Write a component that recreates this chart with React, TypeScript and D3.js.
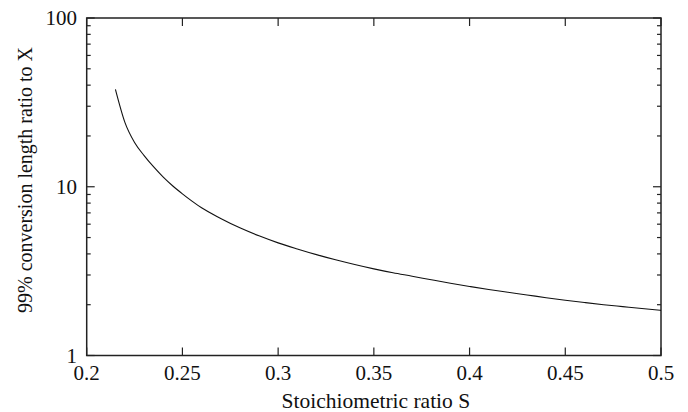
import React from "react";
import * as d3 from "d3";

const ratioS: number[] = [0.215, 0.22, 0.225, 0.23, 0.235, 0.24, 0.245, 0.25, 0.255, 0.26, 0.27, 0.28, 0.29, 0.30, 0.31, 0.32, 0.33, 0.34, 0.35, 0.36, 0.37, 0.38, 0.39, 0.40, 0.41, 0.42, 0.43, 0.44, 0.45, 0.46, 0.47, 0.48, 0.49, 0.50];
const lengthRatio: number[] = [37.8, 24.0, 18.3, 15.3, 13.1, 11.4, 10.1, 9.08, 8.22, 7.5, 6.49, 5.71, 5.12, 4.65, 4.28, 3.96, 3.69, 3.46, 3.26, 3.09, 2.95, 2.81, 2.68, 2.565, 2.46, 2.37, 2.285, 2.2, 2.125, 2.06, 2.0, 1.948, 1.898, 1.85];
const xTicks: number[] = [0.2, 0.25, 0.3, 0.35, 0.4, 0.45, 0.5];
const xTickLabels: string[] = ["0.2", "0.25", "0.3", "0.35", "0.4", "0.45", "0.5"];
const yMajorTicks: number[] = [1, 10, 100];
const yTickLabels: string[] = ["1", "10", "100"];
const xTitle = "Stoichiometric ratio S";
const yTitle = "99% conversion length ratio to X";

const W = 688, H = 412;
const left = 86.7, right = 661, top = 18, bottom = 355.5;
const FONT = "Liberation Serif";

export default function App() {
  const x = d3.scaleLinear().domain([0.2, 0.5]).range([left, right]);
  const y = d3.scaleLog().domain([1, 100]).range([bottom, top]);
  const data = ratioS.map((s, i) => [s, lengthRatio[i]] as [number, number]);
  const line = d3.line<[number, number]>().x(d => x(d[0])).y(d => y(d[1])).curve(d3.curveMonotoneX);
  const minor: number[] = [];
  for (const dec of [1, 10]) for (let k = 2; k <= 9; k++) minor.push(dec * k);
  const axisColor = "#222";
  const major = 8, minorLen = 4;
  return (
    <svg width={W} height={H} style={{ position: "fixed", left: 0, top: 0, background: "#fff" }}>
      <rect x={0} y={0} width={W} height={H} fill="#fff" />
      {xTicks.map((t, i) => (
        <g key={"xt" + i}>
          <line x1={x(t)} x2={x(t)} y1={bottom} y2={bottom - major} stroke={axisColor} strokeWidth={1.2} />
          <line x1={x(t)} x2={x(t)} y1={top} y2={top + major} stroke={axisColor} strokeWidth={1.2} />
          <text x={x(t)} y={380} textAnchor="middle" fontFamily={FONT} fontSize={21} fill="#111">{xTickLabels[i]}</text>
        </g>
      ))}
      {yMajorTicks.map((t, i) => (
        <g key={"yt" + i}>
          <line x1={left} x2={left + major} y1={y(t)} y2={y(t)} stroke={axisColor} strokeWidth={1.2} />
          <line x1={right} x2={right - major} y1={y(t)} y2={y(t)} stroke={axisColor} strokeWidth={1.2} />
          <text x={77} y={y(t) + 7} textAnchor="end" fontFamily={FONT} fontSize={21} fill="#111">{yTickLabels[i]}</text>
        </g>
      ))}
      {minor.map((t, i) => (
        <g key={"ym" + i}>
          <line x1={left} x2={left + minorLen} y1={y(t)} y2={y(t)} stroke={axisColor} strokeWidth={1.2} />
          <line x1={right} x2={right - minorLen} y1={y(t)} y2={y(t)} stroke={axisColor} strokeWidth={1.2} />
        </g>
      ))}
      <rect x={left} y={top} width={right - left} height={bottom - top} fill="none" stroke={axisColor} strokeWidth={1.5} />
      <path d={line(data) || ""} fill="none" stroke="#111" strokeWidth={1.1} />
      <text x={(left + right) / 2 + 2} y={408} textAnchor="middle" fontFamily={FONT} fontSize={21.5} fill="#111">{xTitle}</text>
      <text transform={`translate(32, 180) rotate(-90)`} textAnchor="middle" fontFamily={FONT} fontSize={20} fill="#111">{yTitle}</text>
    </svg>
  );
}
